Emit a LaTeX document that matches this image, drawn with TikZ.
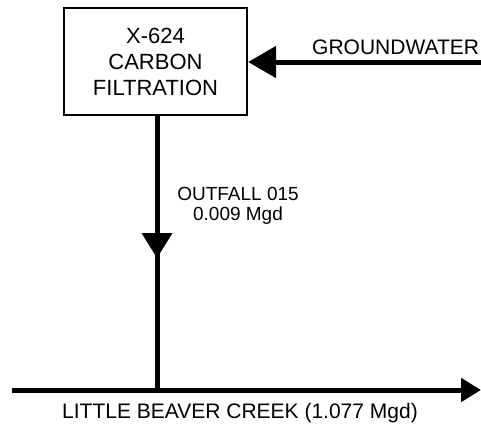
\documentclass[tikz,border=0pt]{standalone}
\usepackage{fontspec}
\setmainfont{Liberation Sans}
\usetikzlibrary{arrows.meta}
\begin{document}
\begin{tikzpicture}[x=1pt,y=-1pt,
  flow/.style={line width=5pt},
  boxstyle/.style={draw, line width=2.2pt, minimum width=183pt, minimum height=107pt,
    align=center, inner sep=0pt, font=\fontsize{22}{26}\selectfont},
  lbl/.style={inner sep=0pt, font=\fontsize{21}{25}\selectfont},
  slbl/.style={inner sep=0pt, font=\fontsize{19}{22}\selectfont}]
\useasboundingbox (0,0) rectangle (481,424);
\node[boxstyle] (box) at (155.5,61.5) {X-624\\CARBON\\FILTRATION};
% groundwater inflow
\coordinate (gw) at (481,62);
\draw[flow,-{Triangle[length=28pt,width=31pt]}] (gw) -- (box.east |- gw);
\node[lbl, anchor=base west] (gwl) at (312,54) {GROUNDWATER};
% creek
\coordinate (cl) at (12,390);
\coordinate (cr) at (481,390);
\coordinate (j) at (157,390);
\draw[flow,-{Triangle[length=20pt,width=23pt]}] (cl) -- (cr);
\node[lbl, anchor=base] (cll) at (240,418) {LITTLE BEAVER CREEK (1.077 Mgd)};
% outfall
\draw[flow] (box.south -| j) -- (j);
\coordinate (vt) at (157,258);
\fill (vt) -- ++(-15.5,-25) -- ++(31,0) -- cycle;
\node[slbl, anchor=base] (of1) at (238,200) {OUTFALL 015};
\node[slbl, anchor=base] (of2) at (238,220) {0.009 Mgd};
\end{tikzpicture}
\end{document}
